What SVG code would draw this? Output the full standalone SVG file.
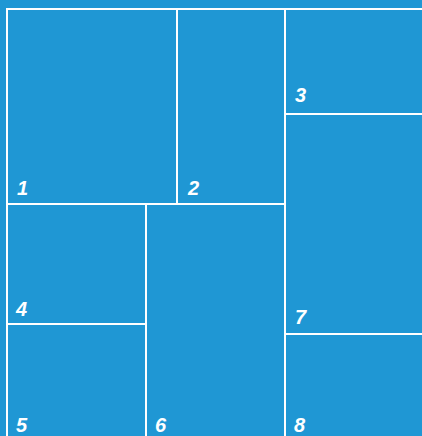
<svg xmlns="http://www.w3.org/2000/svg" width="422" height="436" viewBox="0 0 422 436">
<style>
.cell{fill:#1f97d4;stroke:#ffffff;stroke-width:2}
.lbl{fill:#ffffff;font-family:"Liberation Sans",Arial,sans-serif;font-weight:bold;font-style:italic;font-size:20px}
</style>
<rect x="0" y="0" width="422" height="436" fill="#1f97d4"/>
<g id="connectors"></g>
<g id="node1"><rect class="cell" x="7" y="9" width="170" height="195"/><text class="lbl" x="17" y="195">1</text></g>
<g id="node2"><rect class="cell" x="177" y="9" width="108" height="195"/><text class="lbl" x="188" y="195">2</text></g>
<g id="node3"><rect class="cell" x="285" y="9" width="150" height="105"/><text class="lbl" x="295" y="102">3</text></g>
<g id="node4"><rect class="cell" x="7" y="204" width="139" height="120"/><text class="lbl" x="16" y="316">4</text></g>
<g id="node5"><rect class="cell" x="7" y="324" width="139" height="130"/><text class="lbl" x="16" y="432">5</text></g>
<g id="node6"><rect class="cell" x="146" y="204" width="139" height="250"/><text class="lbl" x="155" y="432">6</text></g>
<g id="node7"><rect class="cell" x="285" y="114" width="150" height="220"/><text class="lbl" x="295" y="324">7</text></g>
<g id="node8"><rect class="cell" x="285" y="334" width="150" height="120"/><text class="lbl" x="294" y="432">8</text></g>
</svg>
